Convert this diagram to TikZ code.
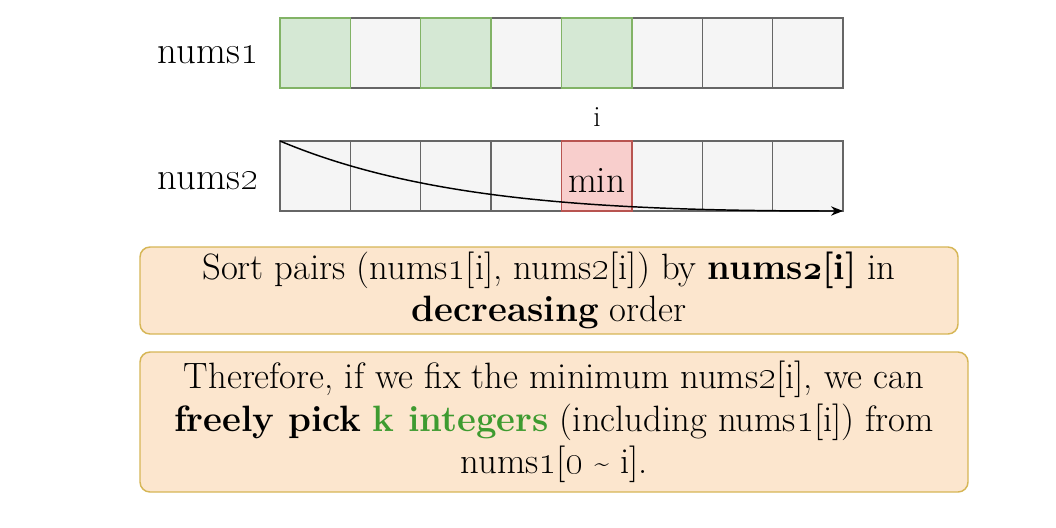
\documentclass[tikz,border=0pt]{standalone}
\usetikzlibrary{arrows.meta}
\definecolor{greyfill}{HTML}{F5F5F5}
\definecolor{greydraw}{HTML}{666666}
\definecolor{greenfill}{HTML}{D5E8D4}
\definecolor{greendraw}{HTML}{82B366}
\definecolor{redfill}{HTML}{F8CECC}
\definecolor{reddraw}{HTML}{B85450}
\definecolor{boxfill}{HTML}{FCE6CE}
\definecolor{boxdraw}{HTML}{D6B656}
\definecolor{kgreen}{HTML}{3E9B30}
\newcommand{\on}[1]{\oldstylenums{#1}}
\newcommand{\bon}[1]{{\usefont{OML}{cmm}{b}{it}#1}}
\newcommand{\smalltilde}{\raisebox{0.15ex}{\scalebox{0.7}{\textasciitilde}}}
\begin{document}
\begin{tikzpicture}[x=0.75pt,y=-0.75pt,
  cell/.style={draw=greydraw, fill=greyfill, line width=1pt, minimum width=52.78pt, minimum height=52.5pt, inner sep=0pt, outer sep=0pt, anchor=north west},
  gcell/.style={cell, draw=greendraw, fill=greenfill},
  rcell/.style={cell, draw=reddraw, fill=redfill},
  lbl/.style={inner sep=0pt, font=\fontsize{29}{32}\selectfont},
  textbox/.style={draw=boxdraw, fill=boxfill, line width=1.1pt, rounded corners=7.5pt, align=center, inner sep=0pt, font=\fontsize{27.5}{32}\selectfont},
  curvearrow/.style={-{Stealth[length=9pt,width=7pt]}, line width=1.1pt, black}]
\useasboundingbox (0,0) rectangle (1056,528);
\foreach \i in {0,...,7} {
  \node[cell] (a\i) at ({280+70.375*\i},18) {};
  \node[cell] (b\i) at ({280+70.375*\i},141) {};
}
\foreach \i in {0,2,4} {
  \node[gcell] (a\i) at ({280+70.375*\i},18) {};
}
\node[rcell] (b4) at ({280+70.375*4},141) {};
\node[lbl, anchor=center, font=\fontsize{28}{30}\selectfont] (minlbl) at ([yshift=-3pt]b4.center) {min};
\node[lbl] (l1) at (208,55) {nums\on{1}};
\node[lbl] (l2) at (208,181) {nums\on{2}};
\node[lbl, font=\fontsize{22}{24}\selectfont] (ilbl) at (597,117) {i};
\draw[curvearrow] (b0.north west) .. controls (420,200) and (600,211) .. (b7.south east);
\node[textbox, minimum width=613.5pt, minimum height=65.25pt] (t1) at (549,290.5)
  {Sort pairs (nums\on{1}[i], nums\on{2}[i]) by \textbf{nums\bon{2}[i]} in\\ \textbf{decreasing} order};
\node[textbox, minimum width=621pt, minimum height=105pt] (t2) at (554,422)
  {Therefore, if we fix the minimum nums\on{2}[i], we can\\ \textbf{freely pick} \textcolor{kgreen}{\textbf{k integers}} (including nums\on{1}[i]) from\\ nums\on{1}[\on{0} \smalltilde{} i].};
\end{tikzpicture}
\end{document}
